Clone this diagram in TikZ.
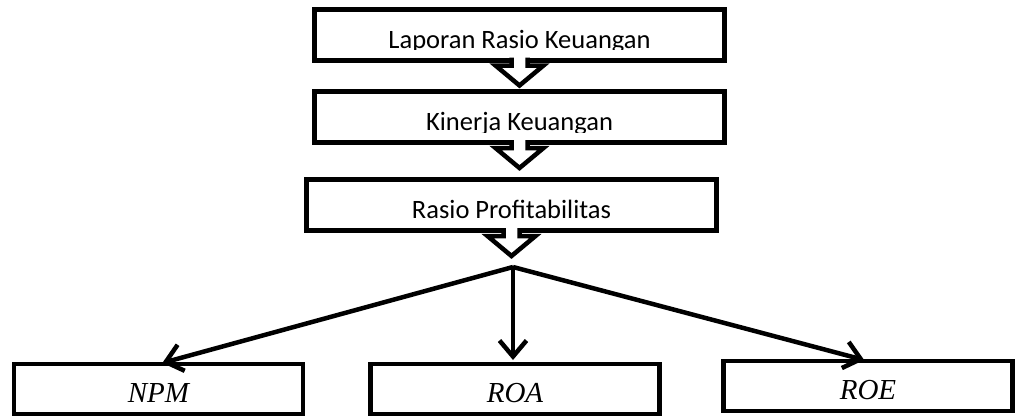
\documentclass[tikz,border=0pt]{standalone}
\usepackage{fontspec}
\setmainfont{Liberation Serif}
\newfontfamily\calibri{Carlito}
\usetikzlibrary{arrows.meta}

\tikzset{
  topbox/.style={draw, line width=5pt, fill=white, outer sep=0pt, inner sep=0pt,
    minimum width=410pt, text height=39pt, text depth=12pt,
    font=\calibri\fontsize{26.5}{30}\selectfont},
  ratiobox/.style={draw, line width=4.5pt, outer sep=0pt, inner sep=0pt,
    minimum width=289pt, text height=38pt, text depth=12pt,
    font=\itshape\fontsize{29}{33}\selectfont},
  blockarrow/.style={draw, fill=white, line width=4.5pt},
  branch/.style={-{Straight Barb[length=16pt,width=27pt]}, line width=4.5pt, shorten >=4pt},
}

\begin{document}
\begin{tikzpicture}[x=1pt,y=1pt]
    \useasboundingbox (0,0) rectangle (1015,-416);
    % chain of boxes
    \node[topbox] (laporan) at (519.5,-34.5) {Laporan Rasio Keuangan};
    \node[topbox] (kinerja) at (519.5,-117) {Kinerja Keuangan};
    \node[topbox] (rasio) at (511.5,-205) {Rasio Profitabilitas};
    \foreach \b in {laporan,kinerja}
        \fill[white] ([xshift=3pt,yshift=2.5pt]\b.south west) rectangle ([xshift=-3pt,yshift=10pt]\b.south east);
    \foreach \b in {laporan,kinerja,rasio}
        \draw[blockarrow] ([xshift=-8pt,yshift=2.5pt]\b.south) -- ++(0,-8) -- ++(-16,0)
            -- ++(24,-20) -- ++(24,20) -- ++(-16,0) -- ++(0,8);
    % the three ratios
    \node[ratiobox] (npm) at (158.5,-389) {NPM};
    \node[ratiobox] (roa) at (515,-389) {ROA};
    \node[ratiobox] (roe) at (868,-386) {ROE};
    \coordinate (fork) at (513,-267);
    \draw[branch] (fork) -- (npm.north);
    \draw[branch] (fork) -- (fork |- roa.north);
    \draw[branch] (fork) -- (roe.north);
\end{tikzpicture}
\end{document}
